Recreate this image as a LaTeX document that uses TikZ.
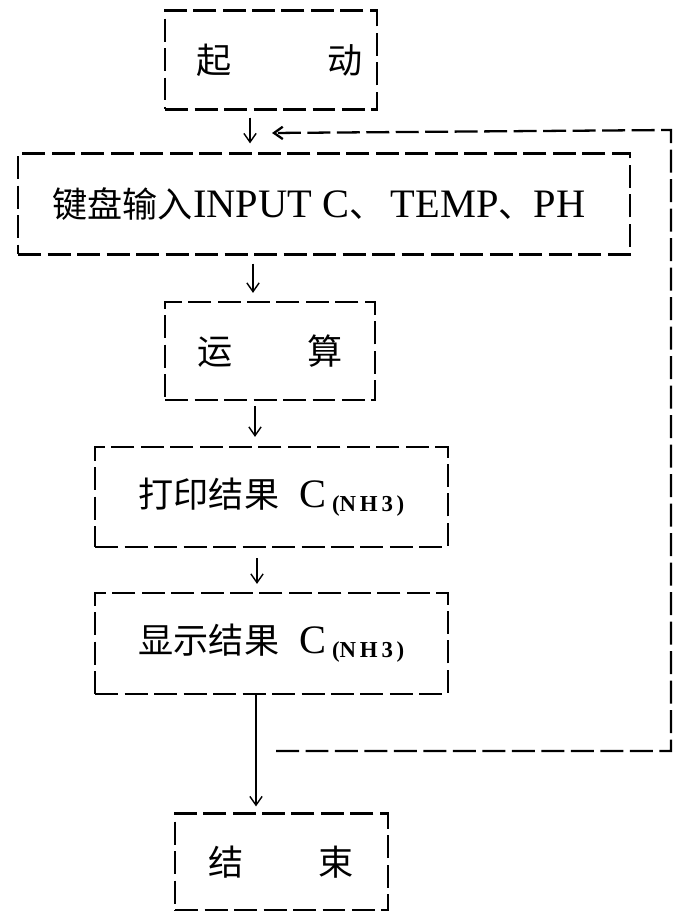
\documentclass[tikz,border=0pt]{standalone}
\usepackage{fontspec}
\setmainfont{Liberation Serif}
\newfontfamily\cjk{Noto Sans CJK SC}
\usetikzlibrary{arrows.meta}
\newcommand\latbig{\rmfamily\fontsize{23}{26}\selectfont}
\newcommand\chem[1]{\,\raisebox{-0.12em}{\rmfamily\fontsize{13}{15}\selectfont\bfseries #1}}
\begin{document}
\begin{tikzpicture}[x=0.02cm,y=-0.02cm,
  box/.style={draw, line width=1.3pt, dash pattern=on 0.46cm off 0.13cm,
    inner sep=0pt, font=\cjk\fontsize{20}{24}\selectfont},
  arr/.style={line width=0.8pt, -{Straight Barb[length=5pt,width=7pt]}},
  fbline/.style={line width=1.3pt, dash pattern=on 0.46cm off 0.13cm,
    -{Straight Barb[length=5pt,width=7pt]}}]
\useasboundingbox (0,0) rectangle (682,911);
% boxes
\node[box, minimum width=4.24cm, minimum height=1.98cm] (s) at (271,60)
  {\hspace*{0.35cm}起\hspace{1.92cm}动};
\node[box, minimum width=12.24cm, minimum height=2.02cm] (i) at (324,204)
  {\hspace*{-0.2cm}键盘输入{\latbig INPUT C}、{\latbig\,TEMP}、{\latbig PH}};
\node[box, minimum width=7.06cm, minimum height=2.0cm] (p) at (271.5,497)
  {打印结果\hspace{0.4cm}{\latbig C}\chem{(N\,H\,3\,)}};
\node[box, minimum width=4.2cm, minimum height=1.96cm] (r) at (270,351)
  {运\hspace{1.5cm}算};
\node[box, minimum width=7.06cm, minimum height=2.02cm] (d) at (271.5,643.5)
  {显示结果\hspace{0.4cm}{\latbig C}\chem{(N\,H\,3\,)}};
\node[box, minimum width=4.26cm, minimum height=1.94cm] (e) at (281.5,862)
  {结\hspace{1.5cm}束};
% arrow columns
\coordinate (c1) at (250,0);
\coordinate (c2) at (253,0);
\coordinate (c3) at (255,0);
\coordinate (c4) at (257,0);
\coordinate (c5) at (256,0);
\draw[arr] ([yshift=-0.14cm]s.south -| c1) -- ([yshift=0.18cm]i.north -| c1);
\draw[arr] ([yshift=-0.16cm]i.south -| c2) -- ([yshift=0.16cm]r.north -| c2);
\draw[arr] ([yshift=-0.1cm]r.south -| c3) -- ([yshift=0.18cm]p.north -| c3);
\draw[arr] ([yshift=-0.2cm]p.south -| c4) -- ([yshift=0.16cm]d.north -| c4);
\draw[arr] (d.south -| c5) -- ([yshift=0.12cm]e.north -| c5);
% feedback loop
\coordinate (fa) at (276,751);
\coordinate (fb) at (671,751);
\coordinate (fc) at (671,130);
\coordinate (fd) at (272,133);
\draw[fbline] (fa) -- (fb) -- (fc) -- (fd);
\end{tikzpicture}
\end{document}
